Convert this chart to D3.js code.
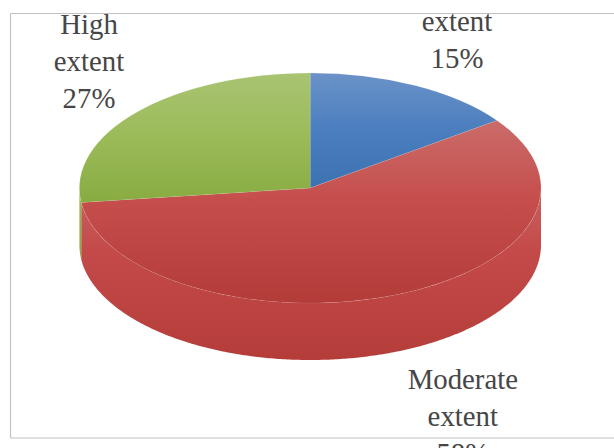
<!DOCTYPE html>
<html>
<head>
<meta charset="utf-8">
<script src="https://cdn.jsdelivr.net/npm/d3@7"></script>
<style>
  html, body { margin: 0; padding: 0; background: #fff; overflow: hidden; }
  svg { display: block; }
  text { font-family: "Liberation Serif", serif; font-size: 28.8px; fill: #464646; text-anchor: middle; }
</style>
</head>
<body>
<svg id="chart" width="614" height="448"></svg>
<script>
// Survey shares, clockwise from twelve o'clock.
const categories = ["Low extent", "Moderate extent", "High extent"];
const shares = [15, 58, 27];
const labelLines = [["extent", "15%"], ["Moderate", "extent", "58%"], ["High", "extent", "27%"]];

// Vertical shading of each slice, top to bottom: [offset, colour].
const topShades = [
  [[0, "#6b92c8"], [0.5, "#4a7ebe"], [1, "#3d72b1"]],
  [[0, "#ca6c6a"], [0.45, "#c54d4b"], [1, "#b33b38"]],
  [[0, "#a9c472"], [0.5, "#9bbb59"], [1, "#88ab41"]]
];
const sideShades = [
  [[0, "#4a7ebe"], [1, "#3d72b1"]],
  [[0, "#c76363"], [0.35, "#c44b49"], [1, "#b43c39"]],
  [[0, "#95b74e"], [1, "#88ab41"]]
];

const width = 614, height = 448;
const cx = 310.2, cy = 188, rx = 230.8, ry = 115, depth = 57;

const svg = d3.select("#chart");
const defs = svg.append("defs");

function addGradient(id, stops) {
  const g = defs.append("linearGradient")
    .attr("id", id).attr("x1", 0).attr("y1", 0).attr("x2", 0).attr("y2", 1);
  g.selectAll("stop").data(stops).join("stop")
    .attr("offset", d => d[0]).attr("stop-color", d => d[1]);
}
topShades.forEach((s, i) => addGradient("top" + i, s));
sideShades.forEach((s, i) => addGradient("side" + i, s));

// Chart frame: the right edge runs past the page.
const frame = svg.append("g").attr("stroke", "#c2c2c2").attr("stroke-width", 1.2);
[[10.5, 13.5, width, 13.5], [10.5, 13.5, 10.5, 438], [10.5, 438, width, 438]].forEach(s =>
  frame.append("line").attr("x1", s[0]).attr("y1", s[1]).attr("x2", s[2]).attr("y2", s[3]));

const slices = d3.pie().sort(null).value(d => d)(shares);

// Point on the tilted rim; the angle is clockwise from the top.
const rimX = a => cx + rx * Math.sin(a);
const rimY = a => cy - ry * Math.cos(a);

// Only the part of a slice between 3 and 9 o'clock shows a wall.
const frontStart = Math.PI / 2, frontEnd = 3 * Math.PI / 2;
const wallLine = d3.line();
function wallPath(d) {
  const a0 = Math.max(d.startAngle, frontStart), a1 = Math.min(d.endAngle, frontEnd);
  if (a1 <= a0) return null;
  const angles = d3.range(a0, a1, 0.01).concat(a1);
  const upper = angles.map(a => [rimX(a), rimY(a)]);
  const lower = angles.slice().reverse().map(a => [rimX(a), rimY(a) + depth]);
  return wallLine(upper.concat(lower)) + "Z";
}

svg.append("g").selectAll("path")
  .data(slices.filter(d => wallPath(d)))
  .join("path")
  .attr("d", wallPath)
  .attr("fill", d => `url(#side${d.index})`);

// Top face: a flat pie squashed vertically into the tilted ellipse.
const arc = d3.arc().innerRadius(0).outerRadius(rx);
svg.append("g")
  .attr("transform", `translate(${cx},${cy}) scale(1,${ry / rx})`)
  .selectAll("path")
  .data(slices)
  .join("path")
  .attr("d", arc)
  .attr("fill", d => `url(#top${d.index})`)
  .attr("stroke", "rgba(255,255,255,0.14)")
  .attr("stroke-width", 0.6)
  .attr("vector-effect", "non-scaling-stroke");

// Data labels, stacked line by line and centred on their anchors.
const labelAnchors = [[457, 30.5], [462.8, 389], [89, 34]];
const lineStep = 37;
const labels = svg.append("g").selectAll("text")
  .data(labelLines)
  .join("text")
  .attr("transform", (d, i) => `translate(${labelAnchors[i][0]},${labelAnchors[i][1]})`);
labels.selectAll("tspan")
  .data(d => d)
  .join("tspan")
  .attr("x", 0)
  .attr("y", (d, i) => i * lineStep)
  .text(d => d);
</script>
</body>
</html>
